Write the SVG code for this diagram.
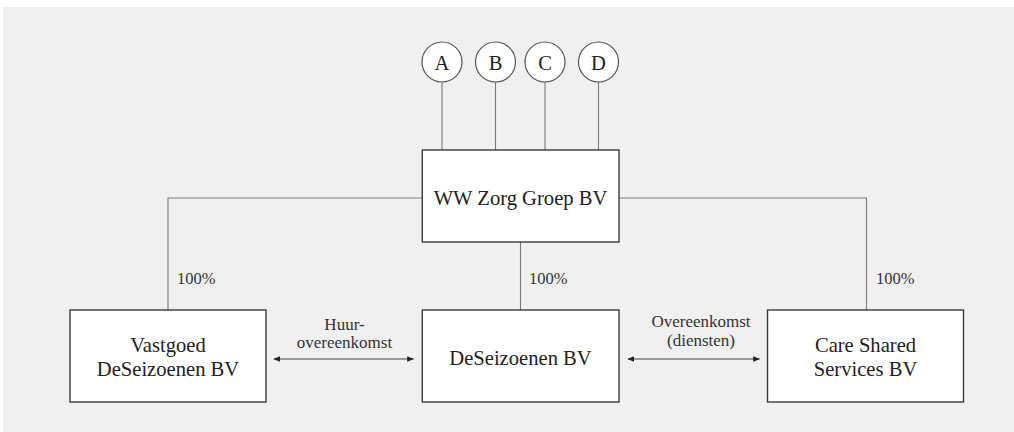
<svg xmlns="http://www.w3.org/2000/svg" width="1014" height="432" viewBox="0 0 1014 432">
  <style>
    .node { fill: #ffffff; stroke: #3a3a3a; stroke-width: 1.4; }
    .owner { fill: #ffffff; stroke: #555555; stroke-width: 1.2; }
    .link { fill: none; stroke: #7a7a7a; stroke-width: 1.1; }
    .deal { fill: none; stroke: #444444; stroke-width: 1; }
    .name { font-family: "Liberation Serif", "DejaVu Serif", serif; font-size: 20.6px; fill: #222222; text-anchor: middle; }
    .pct { font-family: "Liberation Serif", "DejaVu Serif", serif; font-size: 16.5px; fill: #333333; }
    .note { font-family: "Liberation Serif", "DejaVu Serif", serif; font-size: 17px; fill: #333333; text-anchor: middle; }
  </style>
  <defs>
    <marker id="head" viewBox="0 0 10 10" refX="9" refY="5" markerWidth="7" markerHeight="7" orient="auto-start-reverse" markerUnits="userSpaceOnUse">
      <path d="M0,1 L10,5 L0,9 Z" fill="#222222"/>
    </marker>
  </defs>

  <!-- backdrop -->
  <rect x="0" y="0" width="1014" height="432" fill="#ffffff"/>
  <rect x="3" y="7" width="1011" height="425" fill="#f0f0f0"/>

  <!-- connectors -->
  <g id="connectors">
    <line class="link" x1="442" y1="82" x2="442" y2="150"/>
    <line class="link" x1="495.5" y1="82" x2="495.5" y2="150"/>
    <line class="link" x1="545" y1="82" x2="545" y2="150"/>
    <line class="link" x1="598.5" y1="82" x2="598.5" y2="150"/>
    <polyline class="link" points="422,198 168,198 168,310"/>
    <polyline class="link" points="619,198 866.5,198 866.5,310"/>
    <line class="link" x1="520.5" y1="242" x2="520.5" y2="310"/>
    <text class="pct" x="177" y="284">100%</text>
    <text class="pct" x="529" y="283.5">100%</text>
    <text class="pct" x="876" y="283.5">100%</text>
    <line class="deal" x1="274" y1="359" x2="413.5" y2="359" marker-start="url(#head)" marker-end="url(#head)"/>
    <text class="note" x="344.5" y="329.5">Huur-</text>
    <text class="note" x="344.5" y="348">overeenkomst</text>
    <line class="deal" x1="628" y1="359" x2="759.5" y2="359" marker-start="url(#head)" marker-end="url(#head)"/>
    <text class="note" x="701" y="327">Overeenkomst</text>
    <text class="note" x="701" y="346">(diensten)</text>
  </g>

  <!-- shareholders -->
  <g id="shareholder-a">
    <circle class="owner" cx="442" cy="62" r="20"/>
    <text class="name" x="442" y="69.5" font-size="21">A</text>
  </g>
  <g id="shareholder-b">
    <circle class="owner" cx="495.5" cy="62" r="20"/>
    <text class="name" x="495.5" y="69.5" font-size="21">B</text>
  </g>
  <g id="shareholder-c">
    <circle class="owner" cx="545" cy="62" r="20"/>
    <text class="name" x="545" y="69.5" font-size="21">C</text>
  </g>
  <g id="shareholder-d">
    <circle class="owner" cx="598.5" cy="62" r="20"/>
    <text class="name" x="598.5" y="69.5" font-size="21">D</text>
  </g>

  <!-- holding -->
  <g id="ww-zorg-groep">
    <rect class="node" x="422.3" y="150" width="196.7" height="92"/>
    <text class="name" x="520.5" y="204.5">WW Zorg Groep BV</text>
  </g>

  <!-- subsidiaries -->
  <g id="vastgoed-deseizoenen">
    <rect class="node" x="70" y="310" width="196" height="92"/>
    <text class="name" x="168" y="351.5">Vastgoed</text>
    <text class="name" x="168" y="376">DeSeizoenen BV</text>
  </g>
  <g id="deseizoenen">
    <rect class="node" x="422.3" y="310" width="196.7" height="92"/>
    <text class="name" x="520.5" y="365">DeSeizoenen BV</text>
  </g>
  <g id="care-shared-services">
    <rect class="node" x="767.5" y="310" width="196" height="92"/>
    <text class="name" x="865.5" y="351.5">Care Shared</text>
    <text class="name" x="865.5" y="376">Services BV</text>
  </g>
</svg>
